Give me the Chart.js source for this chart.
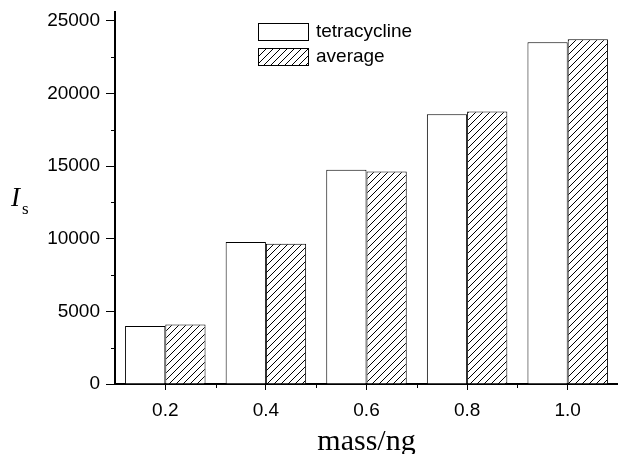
<!DOCTYPE html>
<html>
<head>
<meta charset="utf-8">
<script src="https://cdn.jsdelivr.net/npm/chart.js@4.4.1/dist/chart.umd.min.js"></script>
<style>
  html, body { margin: 0; padding: 0; background: #fff; overflow: hidden; }
  #c { display: block; }
</style>
</head>
<body>
<canvas id="c" width="618" height="454"></canvas>
<script>
// data
const masses = ['0.2', '0.4', '0.6', '0.8', '1.0'];
const tetracycline = [4000, 9770, 14750, 18570, 23520];
const average = [4100, 9650, 14620, 18750, 23730];
const yTicks = [0, 5000, 10000, 15000, 20000, 25000];
const yMinorTicks = [2500, 7500, 12500, 17500, 22500];
const yMax = 25600;

// diagonal hatch for the "average" bars
function makeHatch() {
    const p = 7;
    const tile = document.createElement('canvas');
    tile.width = p;
    tile.height = p;
    const t = tile.getContext('2d');
    t.fillStyle = '#fff';
    t.fillRect(0, 0, p, p);
    t.strokeStyle = '#000';
    t.lineWidth = 1;
    t.beginPath();
    t.moveTo(-1, p + 1); t.lineTo(p + 1, -1);
    t.moveTo(-1, 1); t.lineTo(1, -1);
    t.moveTo(p - 1, p + 1); t.lineTo(p + 1, p - 1);
    t.stroke();
    return t.createPattern(tile, 'repeat');
}

const ctx = document.getElementById('c').getContext('2d');
const hatch = makeHatch();

// minor ticks, axis titles and the inset legend
const extras = {
    id: 'extras',
    afterDraw(chart) {
        const c = chart.ctx;
        const area = chart.chartArea;
        const x = chart.scales.x;
        const y = chart.scales.y;
        c.save();
        c.strokeStyle = '#000';
        c.lineWidth = 1;
        c.beginPath();
        yMinorTicks.forEach(v => {
            const py = Math.round(y.getPixelForValue(v)) + 0.5;
            c.moveTo(area.left - 4, py);
            c.lineTo(area.left, py);
        });
        for (let i = 0; i < masses.length - 1; i++) {
            const px = Math.round((x.getPixelForValue(i) + x.getPixelForValue(i + 1)) / 2) + 0.5;
            c.moveTo(px, area.bottom);
            c.lineTo(px, area.bottom + 4);
        }
        c.stroke();

        // axis titles
        c.fillStyle = '#000';
        c.textBaseline = 'alphabetic';
        c.textAlign = 'center';
        c.font = '30px "Liberation Serif"';
        c.fillText('mass/ng', (area.left + area.right) / 2, 450);
        c.textAlign = 'left';
        c.font = 'italic 27px "Liberation Serif"';
        c.fillText('I', 11, 206);
        c.font = '17px "Liberation Serif"';
        c.fillText('s', 22, 214);

        // legend
        c.font = '19px "Liberation Sans"';
        c.textBaseline = 'middle';
        chart.data.datasets.forEach((ds, i) => {
            const top = 23 + i * 25;
            c.fillStyle = ds.backgroundColor;
            c.fillRect(258, top, 50, 17);
            c.strokeStyle = '#000';
            c.strokeRect(258.5, top + 0.5, 50, 17);
            c.fillStyle = '#000';
            c.fillText(ds.label, 316, top + 9);
        });
        c.restore();
    }
};

new Chart(ctx, {
    type: 'bar',
    data: {
        labels: masses,
        datasets: [{
            label: 'tetracycline',
            data: tetracycline,
            backgroundColor: '#ffffff',
            borderColor: '#000000',
            borderWidth: 1
        }, {
            label: 'average',
            data: average,
            backgroundColor: hatch,
            borderColor: '#000000',
            borderWidth: 1
        }]
    },
    options: {
        responsive: false,
        animation: false,
        events: [],
        layout: { padding: { top: 12, right: 0, left: 0, bottom: 0 } },
        datasets: { bar: { categoryPercentage: 0.8, barPercentage: 1.0 } },
        plugins: {
            legend: { display: false },
            tooltip: { enabled: false }
        },
        scales: {
            x: {
                afterFit: (s) => {
                    s.height = 70;
                    s.paddingLeft = 0;
                    s.paddingRight = 0;
                },
                grid: {
                    offset: false,
                    drawOnChartArea: false,
                    drawTicks: true,
                    tickLength: 6,
                    tickColor: '#000',
                    tickWidth: 1
                },
                border: { color: '#000', width: 2 },
                ticks: {
                    color: '#000',
                    padding: 9,
                    maxRotation: 0,
                    font: { family: 'Liberation Sans', size: 19 }
                }
            },
            y: {
                min: 0,
                max: yMax,
                afterFit: (s) => {
                    s.width = 115;
                    s.paddingTop = 0;
                    s.paddingBottom = 0;
                },
                afterBuildTicks: (s) => { s.ticks = yTicks.map(v => ({ value: v })); },
                grid: {
                    drawOnChartArea: false,
                    drawTicks: true,
                    tickLength: 9,
                    tickColor: '#000',
                    tickWidth: 1
                },
                border: { color: '#000', width: 2 },
                ticks: {
                    color: '#000',
                    padding: 6,
                    callback: (v) => String(v),
                    font: { family: 'Liberation Sans', size: 19 }
                }
            }
        }
    },
    plugins: [extras]
});
</script>
</body>
</html>
